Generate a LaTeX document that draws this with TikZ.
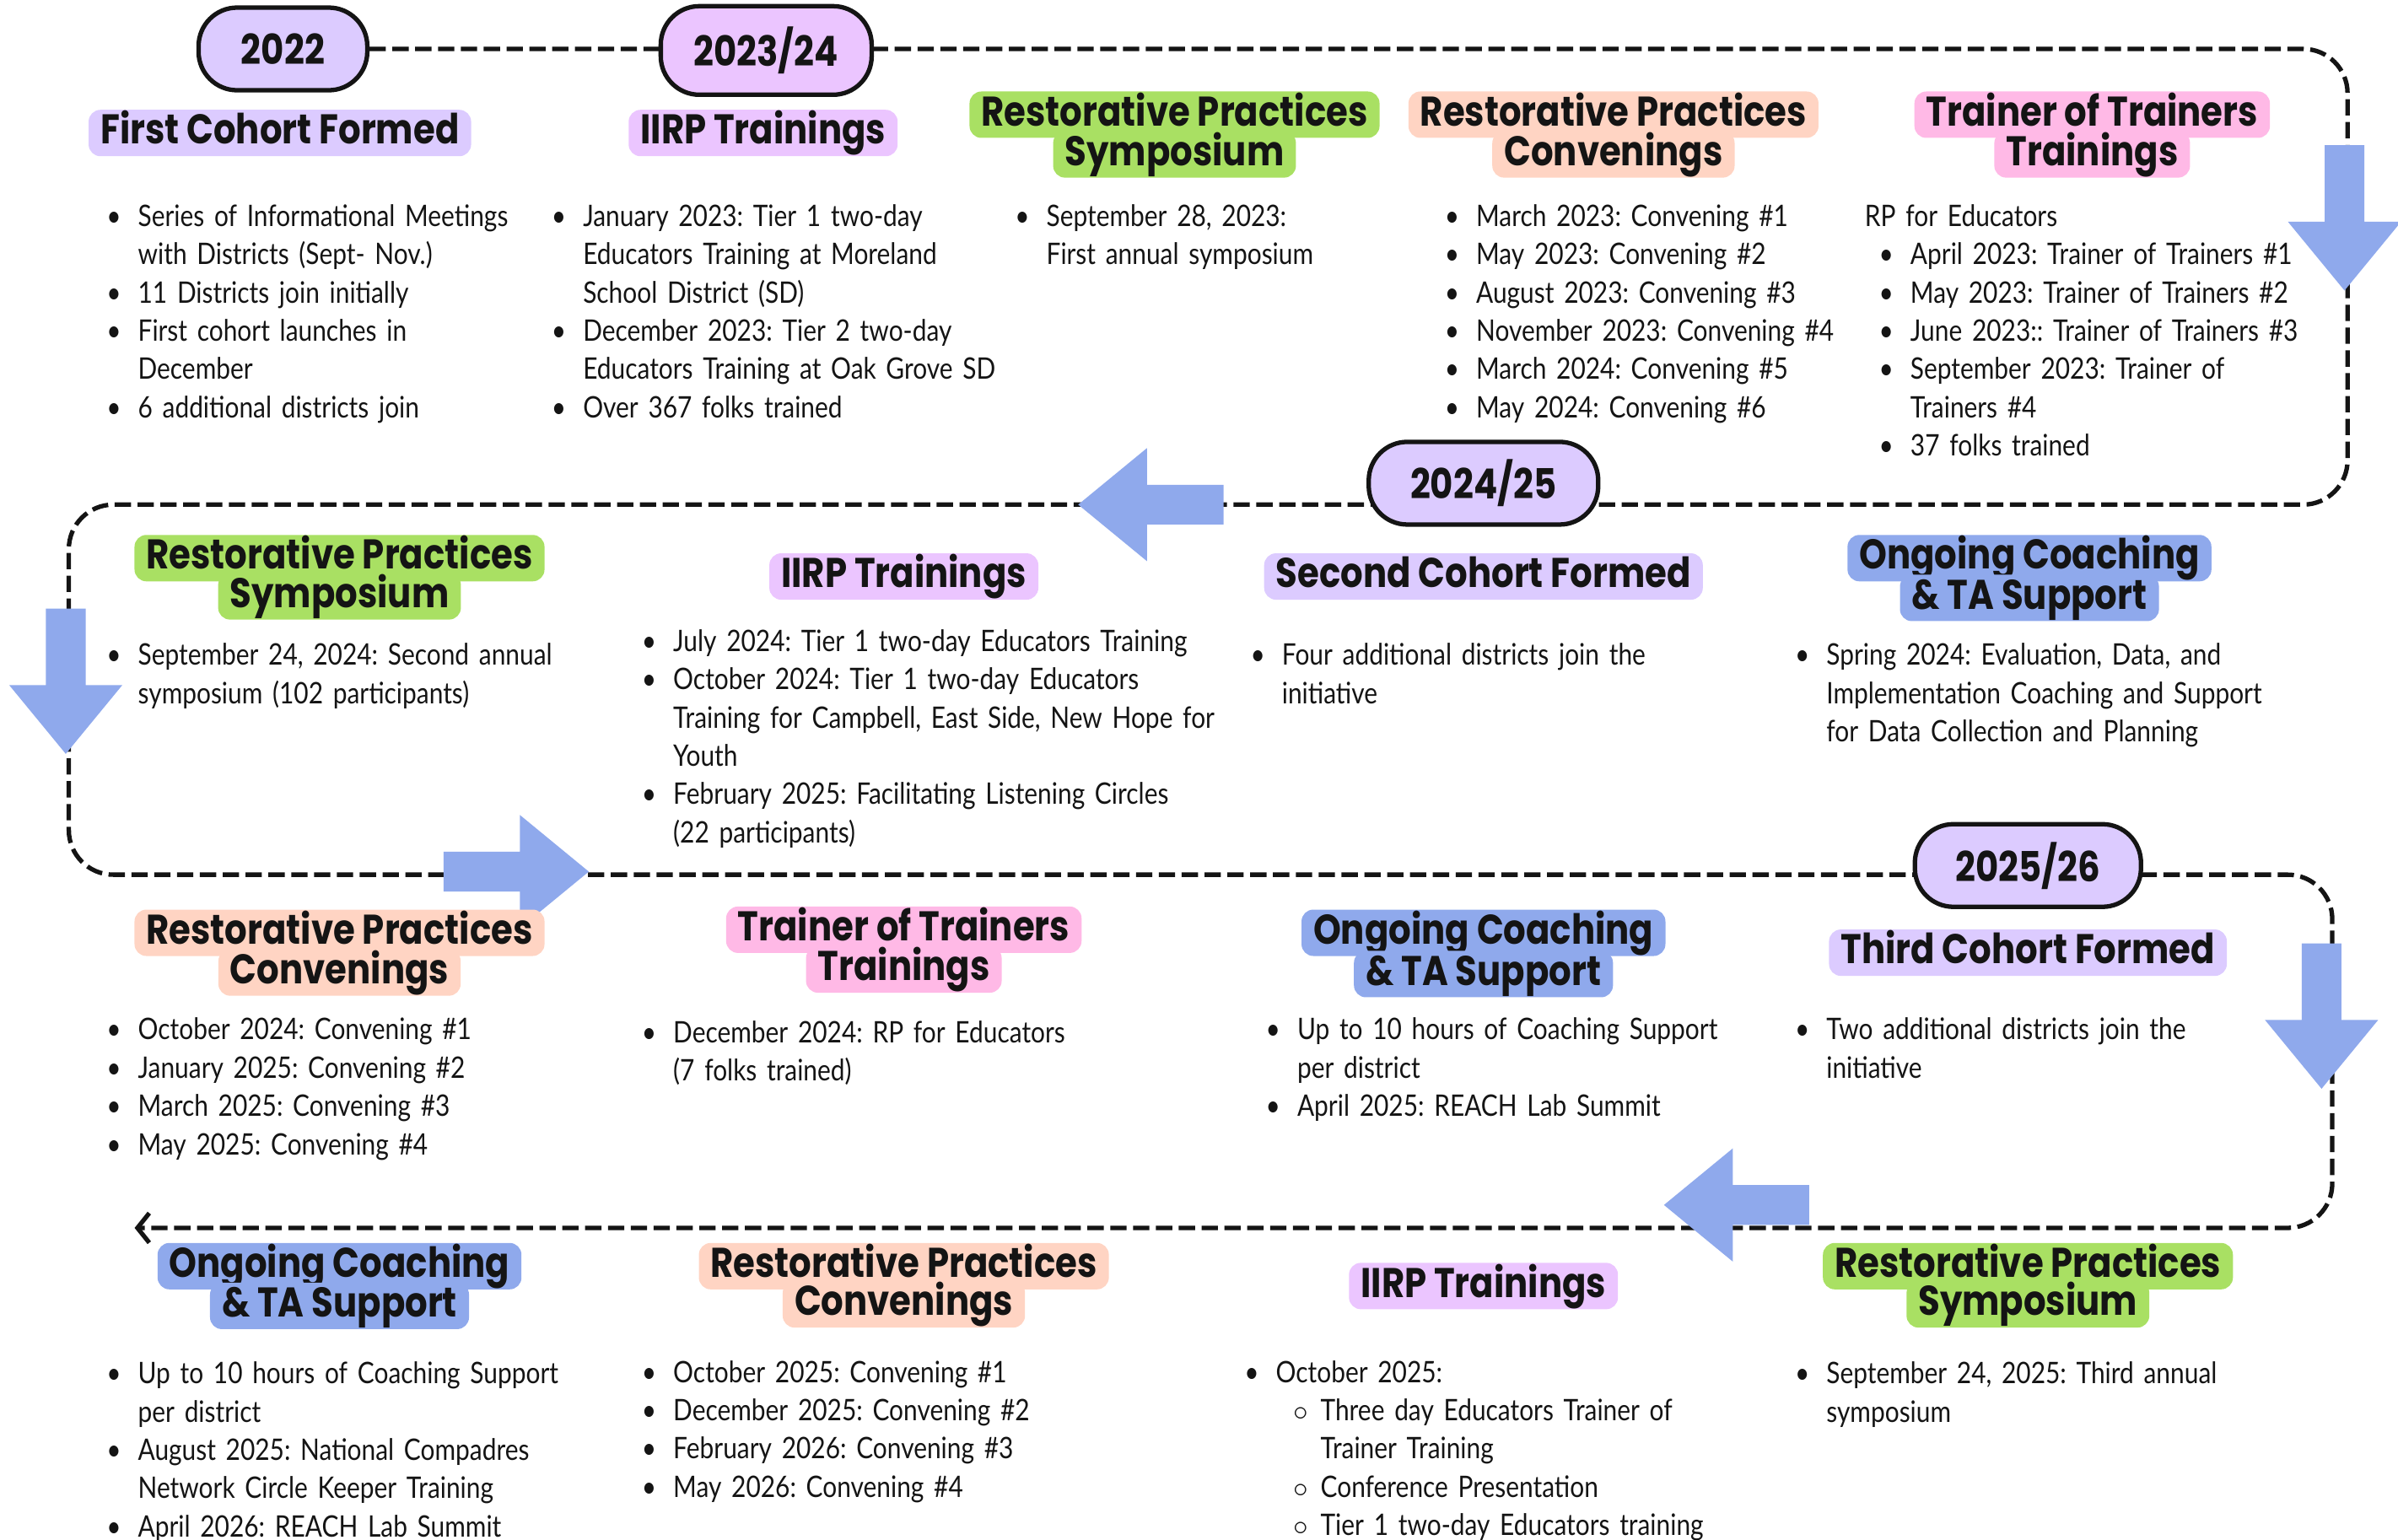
\documentclass[tikz,border=0pt]{standalone}
\usepackage{fontspec}
\setmainfont{Lato}[FakeStretch=0.85]
\newfontfamily\headfont{Poppins}[FakeStretch=0.85]
\usepackage{enumitem}
\setlist[itemize,1]{label=\textbullet,leftmargin=0.36cm,labelsep=0.2cm,itemsep=0pt,topsep=0pt,parsep=0pt,partopsep=0pt}
\setlist[itemize,2]{label=$\circ$,leftmargin=0.53cm,labelsep=0.15cm,itemsep=0pt,topsep=0pt,parsep=0pt,partopsep=0pt}
\usetikzlibrary{arrows.meta,backgrounds}
\definecolor{ink}{HTML}{141414}
\definecolor{lavc}{HTML}{DCCBFF}
\definecolor{iirpc}{HTML}{EBC5FF}
\definecolor{symc}{HTML}{A9E063}
\definecolor{convc}{HTML}{FFD4C3}
\definecolor{totc}{HTML}{FFB9E6}
\definecolor{coachc}{HTML}{8FA9EC}
\definecolor{arrc}{HTML}{8FA9EC}
\frenchspacing
\tikzset{
  yr/.style={draw=ink,line width=1.5pt,fill=#1,rounded corners=13pt,minimum height=0.98cm,inner sep=2pt,
             font=\headfont\bfseries\fontsize{14}{16}\selectfont,text=ink},
  yr/.default=lavc,
  hd/.style={fill=#1,rounded corners=4pt,inner xsep=4pt,inner ysep=0pt,minimum height=0.55cm,text height=10pt,text depth=2.5pt,
             font=\headfont\bfseries\fontsize{14}{16}\selectfont,text=ink},
  txt/.style={anchor=base west,inner sep=0pt,text width=#1,align=left,font=\fontsize{10}{12.9}\selectfont,text=ink},
  txt/.default=5.2cm,
  track/.style={draw=ink,line width=1.5pt,dash pattern=on 5.5pt off 2.2pt},
  blk/.style={fill=arrc},
}
\begin{document}
\begin{tikzpicture}[x=0.018131cm,y=-0.018131cm]
  \useasboundingbox (0,0) rectangle (1568,1007);
  % years
  \node[yr,minimum width=2cm] (y22) at (185,32) {2022};
  \node[yr=iirpc,minimum width=2.5cm,minimum height=1.05cm] (y2324) at (501,33) {2023/24};
  \node[yr,minimum width=2.72cm] (y2425) at (970,316) {2024/25};
  \node[yr,minimum width=2.68cm] (y2526) at (1326,566) {2025/26};
  \coordinate (tip) at (88,803);
  \begin{scope}[on background layer]
    \draw[track,rounded corners=15pt,-{Straight Barb[length=4pt,width=10pt]}] (y22.east) -- (1535,32) -- (1535,330) -- (45,330)
      -- (45,572) -- (1525,572) -- (1525,803) -- (tip);
  \end{scope}
  \foreach \tx/\ty/\r in {1533/190/-90, 705/330/180, 43/493/-90, 385/570/0, 1518/712/-90, 1088/788/180}
    \fill[blk,shift={(\tx,\ty)},rotate=\r] (0,0) -- (-45,-37) -- (-45,-13) -- (-95,-13) -- (-95,13) -- (-45,13) -- (-45,37) -- cycle;

  % row 1
  \node[hd=lavc] (h11) at (183,87) {First Cohort Formed};
  \node[hd=iirpc] (h12) at (499,87) {IIRP Trainings};
  \node[hd=symc] (h13a) at (768,75) {Restorative Practices};
  \node[hd=symc] (h13b) at (768,101) {Symposium};
  \node[hd=convc] (h14a) at (1055,75) {Restorative Practices};
  \node[hd=convc] (h14b) at (1055,101) {Convenings};
  \node[hd=totc] (h15a) at (1368,75) {Trainer of Trainers};
  \node[hd=totc] (h15b) at (1368,101) {Trainings};
  \node[txt=5.17cm] (l11) at (70,123) {\begin{itemize}
    \item Series of Informational Meetings\newline with Districts (Sept- Nov.)
    \item 11 Districts join initially
    \item First cohort launches in\newline December
    \item 6 additional districts join
  \end{itemize}};
  \node[txt=5.35cm] (l12) at (361,123) {\begin{itemize}
    \item January 2023: Tier 1 two-day\newline Educators Training at Moreland\newline School District (SD)
    \item December 2023: Tier 2 two-day\newline Educators Training at Oak Grove SD
    \item Over 367 folks trained
  \end{itemize}};
  \node[txt=4.95cm] (l13) at (664,123) {\begin{itemize}
    \item September 28, 2023:\newline First annual symposium
  \end{itemize}};
  \node[txt=4.9cm] (l14) at (945,123) {\begin{itemize}
    \item March 2023: Convening \#1
    \item May 2023: Convening \#2
    \item August 2023: Convening \#3
    \item November 2023: Convening \#4
    \item March 2024: Convening \#5
    \item May 2024: Convening \#6
  \end{itemize}};
  \node[txt=5.4cm] (l15) at (1219,148) {RP for Educators\begin{itemize}[leftmargin=0.54cm]
    \item April 2023: Trainer of Trainers \#1
    \item May 2023: Trainer of Trainers \#2
    \item June 2023:: Trainer of Trainers \#3
    \item September 2023: Trainer of\newline Trainers \#4
    \item 37 folks trained
  \end{itemize}};

  % row 2
  \node[hd=symc] (h21a) at (222,365) {Restorative Practices};
  \node[hd=symc] (h21b) at (222,390) {Symposium};
  \node[hd=iirpc] (h22) at (591,377) {IIRP Trainings};
  \node[hd=lavc] (h23) at (970,377) {Second Cohort Formed};
  \node[hd=coachc] (h24a) at (1327,365) {Ongoing Coaching};
  \node[hd=coachc] (h24b) at (1327,391) {\& TA Support};
  \node[txt=6.2cm] (l21) at (70,410) {\begin{itemize}
    \item September 24, 2024: Second annual\newline symposium (102 participants)
  \end{itemize}};
  \node[txt=7.1cm] (l22) at (420,401) {\begin{itemize}
    \item July 2024: Tier 1 two-day Educators Training
    \item October 2024: Tier 1 two-day Educators\newline Training for Campbell, East Side, New Hope for\newline Youth
    \item February 2025: Facilitating Listening Circles\newline (22 participants)
  \end{itemize}};
  \node[txt=6.3cm] (l23) at (818,410) {\begin{itemize}
    \item Four additional districts join the\newline initiative
  \end{itemize}};
  \node[txt=6.1cm] (l24) at (1174,410) {\begin{itemize}
    \item Spring 2024: Evaluation, Data, and\newline Implementation Coaching and Support\newline for Data Collection and Planning
  \end{itemize}};

  % row 3
  \node[hd=convc] (h31a) at (222,610) {Restorative Practices};
  \node[hd=convc] (h31b) at (222,636) {Convenings};
  \node[hd=totc] (h32a) at (591,608) {Trainer of Trainers};
  \node[hd=totc] (h32b) at (591,634) {Trainings};
  \node[hd=coachc] (h33a) at (970,610) {Ongoing Coaching};
  \node[hd=coachc] (h33b) at (970,637) {\& TA Support};
  \node[hd=lavc] (h34) at (1326,623) {Third Cohort Formed};
  \node[txt=6.2cm] (l31) at (70,655) {\begin{itemize}
    \item October 2024: Convening \#1
    \item January 2025: Convening \#2
    \item March 2025: Convening \#3
    \item May 2025: Convening \#4
  \end{itemize}};
  \node[txt=7.2cm] (l32) at (420,657) {\begin{itemize}
    \item December 2024: RP for Educators\newline (7 folks trained)
  \end{itemize}};
  \node[txt=6.2cm] (l33) at (828,655) {\begin{itemize}
    \item Up to 10 hours of Coaching Support\newline per district
    \item April 2025: REACH Lab Summit
  \end{itemize}};
  \node[txt=5.9cm] (l34) at (1174,655) {\begin{itemize}
    \item Two additional districts join the\newline initiative
  \end{itemize}};

  % row 4
  \node[hd=coachc] (h41a) at (222,828) {Ongoing Coaching};
  \node[hd=coachc] (h41b) at (222,854) {\& TA Support};
  \node[hd=convc] (h42a) at (591,828) {Restorative Practices};
  \node[hd=convc] (h42b) at (591,853) {Convenings};
  \node[hd=iirpc] (h43) at (970,841) {IIRP Trainings};
  \node[hd=symc] (h44a) at (1326,828) {Restorative Practices};
  \node[hd=symc] (h44b) at (1326,853) {Symposium};
  \node[txt=6.2cm] (l41) at (70,880) {\begin{itemize}
    \item Up to 10 hours of Coaching Support\newline per district
    \item August 2025: National Compadres\newline Network Circle Keeper Training
    \item April 2026: REACH Lab Summit
  \end{itemize}};
  \node[txt=7.1cm] (l42) at (420,879) {\begin{itemize}
    \item October 2025: Convening \#1
    \item December 2025: Convening \#2
    \item February 2026: Convening \#3
    \item May 2026: Convening \#4
  \end{itemize}};
  \node[txt=6.4cm] (l43) at (814,879) {\begin{itemize}
    \item October 2025:
    \begin{itemize}
      \item Three day Educators Trainer of\newline Trainer Training
      \item Conference Presentation
      \item Tier 1 two-day Educators training
    \end{itemize}
  \end{itemize}};
  \node[txt=6.5cm] (l44) at (1174,880) {\begin{itemize}
    \item September 24, 2025: Third annual\newline symposium
  \end{itemize}};
\end{tikzpicture}
\end{document}
